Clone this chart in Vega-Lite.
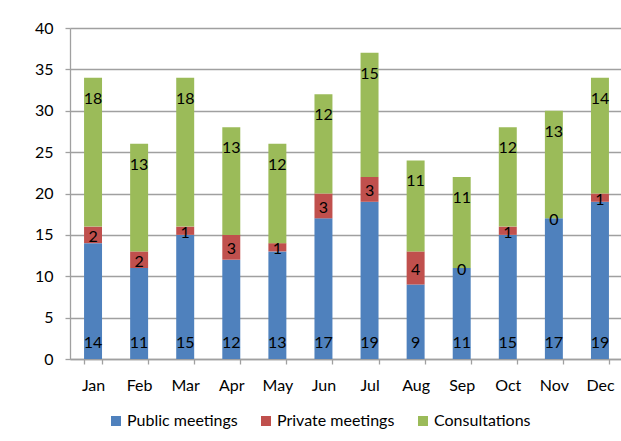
{
  "$schema": "https://vega.github.io/schema/vega-lite/v6.json",
  "autosize": {"type": "none"},
  "padding": {"left": 70, "top": 28, "right": 0, "bottom": 82},
  "width": 553,
  "height": 331,
  "background": "white",
  "config": {
    "font": "Lato",
    "view": {"stroke": null},
    "axis": {"labelFont": "Lato", "labelFontSize": 16, "labelColor": "#000000", "domainColor": "#a0a0a0", "tickColor": "#a0a0a0", "gridColor": "#a0a0a0", "domainWidth": 1.3, "tickWidth": 1.3, "gridWidth": 1.3}
  },
  "data": {
    "values": [
      {"month": "Jan", "series": "Public meetings", "value": 14},
      {"month": "Jan", "series": "Private meetings", "value": 2},
      {"month": "Jan", "series": "Consultations", "value": 18},
      {"month": "Feb", "series": "Public meetings", "value": 11},
      {"month": "Feb", "series": "Private meetings", "value": 2},
      {"month": "Feb", "series": "Consultations", "value": 13},
      {"month": "Mar", "series": "Public meetings", "value": 15},
      {"month": "Mar", "series": "Private meetings", "value": 1},
      {"month": "Mar", "series": "Consultations", "value": 18},
      {"month": "Apr", "series": "Public meetings", "value": 12},
      {"month": "Apr", "series": "Private meetings", "value": 3},
      {"month": "Apr", "series": "Consultations", "value": 13},
      {"month": "May", "series": "Public meetings", "value": 13},
      {"month": "May", "series": "Private meetings", "value": 1},
      {"month": "May", "series": "Consultations", "value": 12},
      {"month": "Jun", "series": "Public meetings", "value": 17},
      {"month": "Jun", "series": "Private meetings", "value": 3},
      {"month": "Jun", "series": "Consultations", "value": 12},
      {"month": "Jul", "series": "Public meetings", "value": 19},
      {"month": "Jul", "series": "Private meetings", "value": 3},
      {"month": "Jul", "series": "Consultations", "value": 15},
      {"month": "Aug", "series": "Public meetings", "value": 9},
      {"month": "Aug", "series": "Private meetings", "value": 4},
      {"month": "Aug", "series": "Consultations", "value": 11},
      {"month": "Sep", "series": "Public meetings", "value": 11},
      {"month": "Sep", "series": "Private meetings", "value": 0},
      {"month": "Sep", "series": "Consultations", "value": 11},
      {"month": "Oct", "series": "Public meetings", "value": 15},
      {"month": "Oct", "series": "Private meetings", "value": 1},
      {"month": "Oct", "series": "Consultations", "value": 12},
      {"month": "Nov", "series": "Public meetings", "value": 17},
      {"month": "Nov", "series": "Private meetings", "value": 0},
      {"month": "Nov", "series": "Consultations", "value": 13},
      {"month": "Dec", "series": "Public meetings", "value": 19},
      {"month": "Dec", "series": "Private meetings", "value": 1},
      {"month": "Dec", "series": "Consultations", "value": 14}
    ]
  },
  "encoding": {
    "x": {
      "field": "month", "type": "nominal", "sort": null,
      "scale": {"paddingInner": 0.61, "paddingOuter": 0.305},
      "axis": {"title": null, "labelAngle": 0, "tickBand": "extent", "tickSize": 5, "labelPadding": 13}
    },
    "order": {"field": "series", "sort": "descending"}
  },
  "layer": [
    {
      "mark": {"type": "bar"},
      "encoding": {
        "y": {
          "field": "value", "type": "quantitative", "stack": "zero",
          "scale": {"domain": [0, 40]},
          "axis": {"title": null, "values": [0, 5, 10, 15, 20, 25, 30, 35, 40], "tickSize": 5, "labelPadding": 12}
        },
        "color": {
          "field": "series", "type": "nominal",
          "scale": {"domain": ["Public meetings", "Private meetings", "Consultations"], "range": ["#4f81bd", "#c0504d", "#9bbb59"]},
          "legend": {"title": null, "orient": "none", "direction": "horizontal", "legendX": 38, "legendY": 385, "symbolType": "square", "symbolSize": 100, "symbolStrokeWidth": 0, "labelFont": "Lato", "labelFontSize": 16, "labelColor": "#000000", "labelOffset": 3, "columnPadding": 20, "padding": 0}
        }
      }
    },
    {
      "mark": {"type": "text", "fontSize": 16, "baseline": "middle", "dy": -16, "color": "#000000"},
      "encoding": {
        "y": {"field": "value", "type": "quantitative", "stack": "zero", "bandPosition": 0},
        "text": {"condition": {"test": "datum.series === 'Public meetings'", "field": "value"}, "value": ""}
      }
    },
    {
      "mark": {"type": "text", "fontSize": 16, "baseline": "middle", "dy": 2, "color": "#000000"},
      "encoding": {
        "y": {"field": "value", "type": "quantitative", "stack": "zero", "bandPosition": 0.5},
        "text": {"condition": {"test": "datum.series === 'Private meetings'", "field": "value"}, "value": ""}
      }
    },
    {
      "mark": {"type": "text", "fontSize": 16, "baseline": "middle", "dy": 21, "color": "#000000"},
      "encoding": {
        "y": {"field": "value", "type": "quantitative", "stack": "zero"},
        "text": {"condition": {"test": "datum.series === 'Consultations'", "field": "value"}, "value": ""}
      }
    }
  ]
}
